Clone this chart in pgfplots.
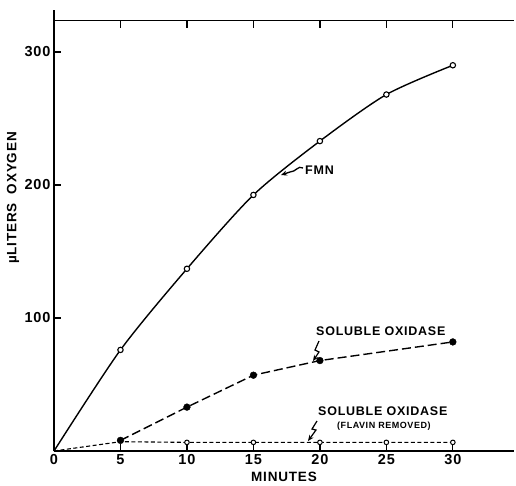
\documentclass[border=0pt]{standalone}
\usepackage{pgfplots}
\pgfplotsset{compat=1.18}
\usepackage{fontspec}
\setmainfont{Liberation Sans}
\newfontfamily\spaced[LetterSpace=6]{Liberation Sans}
\usetikzlibrary{arrows.meta}
\newcommand{\lbl}{\spaced\bfseries\fontsize{13.5}{15}\selectfont}
\newcommand{\ann}{\spaced\bfseries\fontsize{12.5}{14}\selectfont}
\newcommand{\tkl}{\spaced\bfseries\fontsize{14.5}{16}\selectfont}
\begin{document}
\begin{tikzpicture}[x=1pt,y=1pt]
\useasboundingbox (0,0) rectangle (516,-485);
\begin{axis}[
  at={(54pt,-451pt)}, anchor=south west,
  scale only axis, width=460pt, height=430.3pt,
  xmin=0, xmax=34.6, ymin=0, ymax=323.5,
  axis x line=box, axis y line=left,
  axis line style={-, line width=1.4pt},
  xtick={0,5,10,15,20,25,30}, ytick={100,200,300},
  tick align=inside, major tick length=7pt,
  tick style={line width=1.2pt, black},
  tick label style={font=\tkl},
  /pgf/number format/assume math mode=true,
  clip=false,
]
% top ticks
\pgfplotsinvokeforeach{5,10,15,20,25,30}{\draw[line width=1.2pt] (axis cs:#1,323.5) -- ++(0,-4pt);}
% FMN
\addplot[black, line width=1.4pt, smooth, tension=0.45] coordinates {(0,0)(5,76)(10,137)(15,192.5)(20,233)(25,268)(30,290)};
\addplot[only marks, mark=*, mark size=2.7pt, mark options={fill=white, draw=black, line width=1.1pt}] coordinates {(5,76)(10,137)(15,192.5)(20,233)(25,268)(30,290)};
% Soluble oxidase (flavin removed)
\addplot[black, line width=1.1pt, dash pattern=on 4pt off 2.5pt] coordinates {(0,0)(5,7)(10,6.5)(15,6.5)(20,6.5)(25,6.5)(30,6.5)};
\addplot[only marks, mark=*, mark size=2.3pt, mark options={fill=white, draw=black, line width=1pt}] coordinates {(10,6.5)(15,6.5)(20,6.5)(25,6.5)(30,6.5)};
% Soluble oxidase
\addplot[black, line width=1.4pt, dash pattern=on 9pt off 4pt] coordinates {(5,8)(10,33)(15,57)(20,68)(30,82)};
\addplot[only marks, mark=*, mark size=3.4pt, mark options={fill=black, draw=black}] coordinates {(5,8)(10,33)(15,57)(20,68)(30,82)};
\end{axis}
% left axis stub above the top line
\draw[line width=1.4pt] (54,-21) -- (54,-10);
% labels
\node[font=\lbl] at (284,-477) {MINUTES};
\node[font=\lbl, rotate=90] at (13,-198) {\textmu LITERS\ \ OXYGEN};
% annotations
\node[font=\ann, anchor=west, inner sep=0pt] at (305,-170) {FMN};
\draw[line width=1.3pt, -{Stealth[length=6pt,width=5pt]}] (303,-168) .. controls (298,-165) and (296,-172) .. (290,-172) -- (281,-175);
\node[font=\ann, anchor=west, inner sep=0pt] at (316,-331) {SOLUBLE\ OXIDASE};
\draw[line width=1.2pt, -{Stealth[length=6pt,width=5pt]}] (319,-341) -- (315,-350) -- (319,-352) -- (313,-361);
\node[font=\ann, anchor=west, inner sep=0pt] at (318,-411) {SOLUBLE\ OXIDASE};
\node[font=\spaced\bfseries\fontsize{9}{11}\selectfont, anchor=west, inner sep=0pt] at (337,-426) {(FLAVIN\ REMOVED)};
\draw[line width=1.2pt, -{Stealth[length=6pt,width=5pt]}] (317,-421) -- (312,-429) -- (316,-430) -- (308,-441);
\end{tikzpicture}
\end{document}
